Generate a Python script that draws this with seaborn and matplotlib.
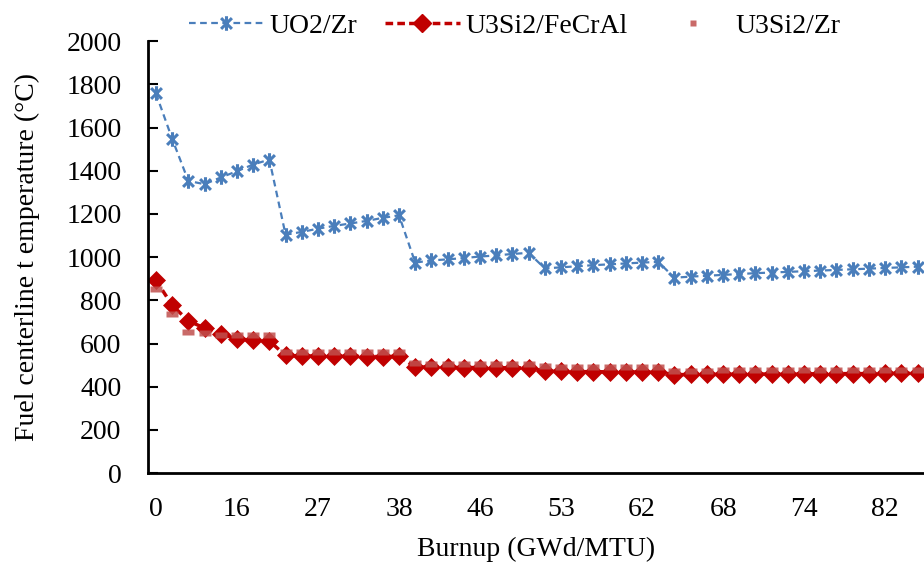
import numpy as np
import pandas as pd
import matplotlib
matplotlib.use("Agg")
import matplotlib.pyplot as plt
from matplotlib.path import Path
from matplotlib.lines import Line2D
import seaborn as sns

# Fuel centerline temperature (°C) per burnup step
uo2_zr = [1758, 1548, 1353, 1338, 1369, 1398, 1429, 1452,
          1104, 1117, 1132, 1145, 1156, 1168, 1182, 1194,
          975, 985, 990, 996, 1003, 1008, 1015, 1020,
          948, 953, 958, 963, 967, 971, 975, 978,
          905, 910, 914, 918, 922, 926, 929, 932,
          935, 938, 941, 944, 947, 950, 953, 956]
u3si2_fecral = [893, 778, 705, 672, 645, 622, 615, 612,
                545, 543, 542, 541, 541, 540, 540, 541,
                492, 491, 490, 489, 489, 488, 488, 487,
                472, 471, 470, 470, 469, 469, 468, 468,
                456, 457, 457, 458, 458, 459, 459, 460,
                460, 460, 461, 461, 461, 462, 462, 462]
u3si2_zr = [855, 737, 654, 647, 640, 640, 640, 640,
            562, 561, 560, 560, 559, 559, 559, 559,
            508, 507, 506, 506, 505, 505, 504, 504,
            494, 493, 493, 492, 492, 491, 491, 491,
            474, 475, 475, 476, 476, 477, 477, 478,
            478, 478, 479, 479, 479, 480, 480, 480]
burnup_labels = ["0", "16", "27", "38", "46", "53", "62", "68", "74", "82"]
label_every = 5

df = pd.DataFrame({
    "step": np.arange(len(uo2_zr)),
    "UO2/Zr": uo2_zr,
    "U3Si2/FeCrAl": u3si2_fecral,
    "U3Si2/Zr": u3si2_zr,
})

sns.set_style("white")
plt.rcParams["font.family"] = ["Liberation Serif", "DejaVu Serif"]
plt.rcParams["text.color"] = "black"
plt.rcParams["axes.labelcolor"] = "black"
plt.rcParams["xtick.color"] = "black"
plt.rcParams["ytick.color"] = "black"

star = Path([(-1, -1), (1, 1), (-1, 1), (1, -1), (0, -1.35), (0, 1.35)],
            [Path.MOVETO, Path.LINETO, Path.MOVETO, Path.LINETO, Path.MOVETO, Path.LINETO])
bar = Path([(-1, -0.5), (1, -0.5), (1, 0.5), (-1, 0.5), (-1, -0.5)],
           [Path.MOVETO, Path.LINETO, Path.LINETO, Path.LINETO, Path.CLOSEPOLY])

fig = plt.figure(figsize=(9.24, 5.64), dpi=100)
ax = fig.add_axes([0.160, 0.161, 0.840, 0.766])

blue = "#4A7EBB"
red = "#C00000"
pink = "#C0504D"

sns.lineplot(data=df, x="step", y="UO2/Zr", ax=ax, color=blue, lw=1.6,
             linestyle=(0, (3, 2)), marker=star, markersize=10.5, mew=2.2,
             mec=blue, mfc="none")
sns.lineplot(data=df, x="step", y="U3Si2/FeCrAl", ax=ax, color=red, lw=2.5,
             linestyle=(0, (2.2, 1.2)), marker="D", markersize=9, mec=red, mew=0.5)
sns.lineplot(data=df, x="step", y="U3Si2/Zr", ax=ax, color=pink, linestyle="none",
             marker=bar, markersize=9, mec="none", alpha=0.85)
ax.lines[2].set_zorder(3)

n = len(df)
ax.set_xlim(-0.5, 47.4)
ax.set_ylim(0, 2000)
ax.set_yticks(np.arange(0, 2001, 200))
ax.set_xticks(np.arange(0, n, label_every)[:len(burnup_labels)])
ax.set_xticklabels(burnup_labels)
ax.set_xticks(np.arange(label_every - 0.5, n, label_every), minor=True)

ax.tick_params(axis="x", which="major", length=0, pad=17, labelsize=20)
ax.tick_params(axis="x", which="minor", direction="in", length=7, width=1.5, color="black")
ax.tick_params(axis="y", direction="in", length=7, width=1.5, pad=19, labelsize=20,
               left=True, color="black")

for s in ["top", "right"]:
    ax.spines[s].set_visible(False)
for s in ["left", "bottom"]:
    ax.spines[s].set_color("black")
    ax.spines[s].set_linewidth(2)

ax.set_xlabel("Burnup (GWd/MTU)", fontsize=20, labelpad=11)
ax.set_ylabel("Fuel centerline t emperature (°C)", fontsize=20, labelpad=19)
ax.grid(False)

handles = [
    Line2D([], [], color=blue, lw=1.6, linestyle=(0, (3, 2)), marker=star,
           markersize=10.5, mew=2.2, mfc="none"),
    Line2D([], [], color=red, lw=2.5, linestyle=(0, (2.2, 1.2)), marker="D",
           markersize=9),
    Line2D([], [], color=pink, linestyle="none", marker="s", markersize=5,
           mec="none", alpha=0.85),
]
fig.legend(handles, ["UO2/Zr", "U3Si2/FeCrAl", "U3Si2/Zr"], loc="upper center",
           bbox_to_anchor=(0.557, 1.02), ncol=3, frameon=False, fontsize=20,
           handlelength=2.7, handletextpad=0.2, columnspacing=1.0)

fig.savefig("out.png", dpi=100)
